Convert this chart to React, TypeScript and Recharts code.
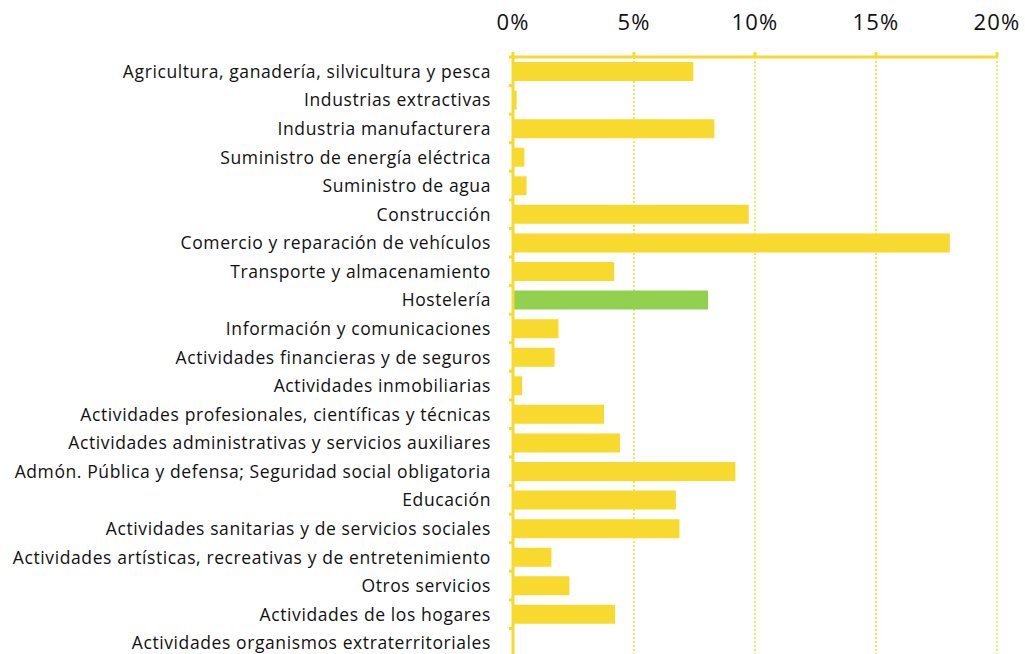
import React from "react";
import { BarChart, Bar, XAxis, YAxis, CartesianGrid, Cell } from "recharts";

const yellow = "#F8DA2E";
const green = "#92D050";
const font = "'Open Sans', 'Noto Sans', sans-serif";

const sectors = [
  "Agricultura, ganadería, silvicultura y pesca",
  "Industrias extractivas",
  "Industria manufacturera",
  "Suministro de energía eléctrica",
  "Suministro de agua",
  "Construcción",
  "Comercio y reparación de vehículos",
  "Transporte y almacenamiento",
  "Hostelería",
  "Información y comunicaciones",
  "Actividades financieras y de seguros",
  "Actividades inmobiliarias",
  "Actividades profesionales, científicas y técnicas",
  "Actividades administrativas y servicios auxiliares",
  "Admón. Pública y defensa; Seguridad social obligatoria",
  "Educación",
  "Actividades sanitarias y de servicios sociales",
  "Actividades artísticas, recreativas y de entretenimiento",
  "Otros servicios",
  "Actividades de los hogares ",
  "Actividades organismos extraterritoriales",
];

const shares = [
  7.45, 0.15, 8.32, 0.47, 0.56, 9.74, 18.05, 4.18, 8.06, 1.88, 1.72, 0.38,
  3.76, 4.42, 9.19, 6.73, 6.88, 1.59, 2.33, 4.22, 0,
];

const xTicks = [0, 5, 10, 15, 20];
const highlight = "Hostelería";

const data = sectors.map((name, i) => ({ name, value: shares[i] }));

// label at band centre, small tick mark at the band's upper edge
const SectorTick = (props: any) => {
  const { x, y, payload } = props;
  const half = payload.offset || 14.3;
  return (
    <g>
      <line x1={x} x2={x + 4} y1={y - half} y2={y - half} stroke={yellow} strokeWidth={3} />
      <text
        x={x - 18}
        y={y}
        dy={6.5}
        textAnchor="end"
        fontSize={17.5}
        letterSpacing={0.6}
        fontFamily={font}
        fill="#111"
      >
        {payload.value}
      </text>
    </g>
  );
};

export default function App() {
  return (
    <div style={{ position: "absolute", left: 0, top: 0, width: 1025, height: 654, overflow: "hidden", background: "#fff" }}>
      <BarChart
        width={1025}
        height={660}
        data={data}
        layout="vertical"
        barSize={19}
        margin={{ top: 0, right: 28, left: 0, bottom: 3 }}
      >
        <CartesianGrid horizontal={false} stroke={yellow} strokeWidth={1.5} strokeDasharray="2 2" />
        <XAxis
          type="number"
          orientation="top"
          domain={[0, 20]}
          ticks={xTicks}
          tickFormatter={(v) => `${v}%`}
          height={57}
          axisLine={{ stroke: yellow, strokeWidth: 3 }}
          tickLine={{ stroke: yellow, strokeWidth: 3 }}
          tickSize={5}
          tickMargin={22}
          tick={{ fill: "#111", fontSize: 22, letterSpacing: 1.2, fontFamily: font }}
        />
        <YAxis
          type="category"
          dataKey="name"
          width={513}
          interval={0}
          axisLine={{ stroke: yellow, strokeWidth: 3 }}
          tickLine={false}
          tickSize={4}
          tickMargin={0}
          tick={<SectorTick />}
        />
        <Bar dataKey="value" isAnimationActive={false}>
          {data.map((d) => (
            <Cell key={d.name} fill={d.name === highlight ? green : yellow} />
          ))}
        </Bar>
      </BarChart>
    </div>
  );
}
